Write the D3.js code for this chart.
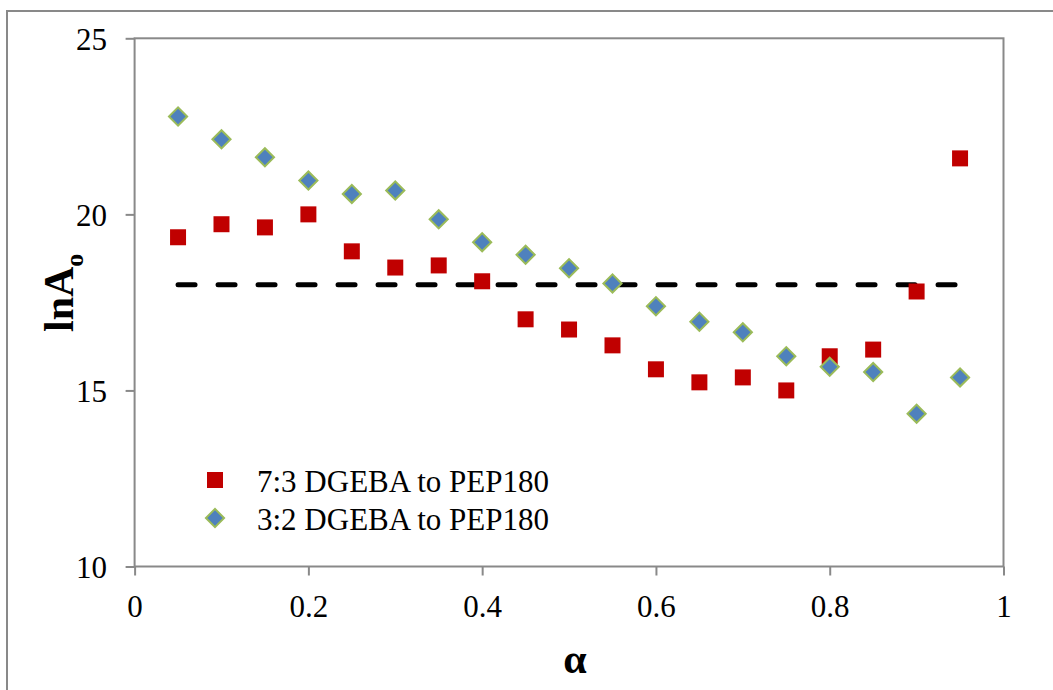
<!DOCTYPE html>
<html>
<head>
<meta charset="utf-8">
<script src="https://cdn.jsdelivr.net/npm/d3@7"></script>
<style>
  html, body { margin: 0; padding: 0; background: #fff; }
  svg { display: block; }
  svg text { font-family: "Liberation Serif", "Times New Roman", Tinos, "DejaVu Serif", "Noto Serif", serif; }
</style>
</head>
<body>
<svg id="chart" width="1053" height="690"></svg>
<script>
// ---- data ----
const alphaValues = [0.05,0.1,0.15,0.2,0.25,0.3,0.35,0.4,0.45,0.5,0.55,0.6,0.65,0.7,0.75,0.8,0.85,0.9,0.95];
const series73 = [19.35,19.72,19.63,20.0,18.95,18.49,18.55,18.10,17.02,16.73,16.28,15.60,15.23,15.37,15.00,15.97,16.16,17.81,21.59];
const series32 = [22.78,22.13,21.62,20.96,20.58,20.68,19.86,19.21,18.85,18.47,18.04,17.39,16.95,16.65,15.97,15.67,15.52,14.34,15.37];
const seriesNames = ["7:3 DGEBA to PEP180", "3:2 DGEBA to PEP180"];
const xTicks = [0, 0.2, 0.4, 0.6, 0.8, 1];
const xTickLabels = ["0", "0.2", "0.4", "0.6", "0.8", "1"];
const yTicks = [10, 15, 20, 25];
const refLevel = 18;
const refRange = [0.05, 0.95];

// ---- setup ----
const svg = d3.select("#chart");
const FONT = '"Liberation Serif", "Times New Roman", Tinos, "DejaVu Serif", serif';
const GREY = "#898989";

const x = d3.scaleLinear().domain([0, 1]).range([134.6, 1003.5]);
const y = d3.scaleLinear().domain([10, 25]).range([566.5, 38.3]);

// outer chart border (extends past the window on right/bottom)
svg.append("rect")
  .attr("x", 7).attr("y", 11)
  .attr("width", 1060).attr("height", 700)
  .attr("fill", "none").attr("stroke", GREY).attr("stroke-width", 2);

// plot area frame
svg.append("rect")
  .attr("x", x(0)).attr("y", y(25))
  .attr("width", x(1) - x(0)).attr("height", y(10) - y(25))
  .attr("fill", "none").attr("stroke", GREY).attr("stroke-width", 2);

// y axis
const yAxis = svg.append("g")
  .attr("transform", `translate(${x(0)},0)`)
  .call(d3.axisLeft(y).tickValues(yTicks).tickSize(9).tickSizeOuter(0).tickPadding(18.5).tickFormat(d3.format("d")));
yAxis.attr("font-family", null);
yAxis.select(".domain").remove();
yAxis.selectAll(".tick line").attr("stroke", GREY).attr("stroke-width", 2);
yAxis.selectAll(".tick text")
  .style("font-family", FONT).style("font-size", "31px").attr("fill", "#000")
  .attr("dy", "0.37em");

// x axis
const xAxis = svg.append("g")
  .attr("transform", `translate(0,${y(10)})`)
  .call(d3.axisBottom(x).tickValues(xTicks).tickSize(9).tickSizeOuter(0)
        .tickFormat((d, i) => xTickLabels[i]));
xAxis.attr("font-family", null);
xAxis.select(".domain").remove();
xAxis.selectAll(".tick line").attr("stroke", GREY).attr("stroke-width", 2);
xAxis.selectAll(".tick text")
  .style("font-family", FONT).style("font-size", "31px").attr("fill", "#000")
  .attr("y", 50.5).attr("dy", 0);

// dashed reference line
svg.append("line")
  .attr("x1", x(refRange[0])).attr("x2", x(refRange[1]))
  .attr("y1", y(refLevel)).attr("y2", y(refLevel))
  .attr("stroke", "#000").attr("stroke-width", 5)
  .attr("stroke-linecap", "round")
  .attr("stroke-dasharray", "17 23");

// markers
const squareSym = d3.symbol().type(d3.symbolSquare).size(256);
const diamondSym = d3.symbol().type(d3.symbolSquare).size(165);

function drawSquare(sel) {
  sel.attr("d", squareSym()).attr("fill", "#C00000");
}
function drawDiamond(sel) {
  sel.attr("d", diamondSym()).attr("fill", "#4F81BD")
     .attr("stroke", "#9BBB59").attr("stroke-width", 2);
}

svg.append("g").selectAll("path")
  .data(alphaValues.map((a, i) => [a, series73[i]]))
  .join("path")
  .attr("transform", d => `translate(${x(d[0])},${y(d[1])})`)
  .call(drawSquare);

svg.append("g").selectAll("path")
  .data(alphaValues.map((a, i) => [a, series32[i]]))
  .join("path")
  .attr("transform", d => `translate(${x(d[0])},${y(d[1])}) rotate(45)`)
  .call(drawDiamond);

// legend
const legend = svg.append("g");
const legendRows = [
  { name: seriesNames[0], draw: drawSquare, rot: 0 },
  { name: seriesNames[1], draw: drawDiamond, rot: 45 }
];
legendRows.forEach((r, i) => {
  const cy = 480 + i * 38;
  legend.append("path")
    .attr("transform", `translate(215,${cy}) rotate(${r.rot})`)
    .call(r.draw);
  legend.append("text")
    .attr("x", 257).attr("y", cy + 12)
    .style("font-family", FONT).style("font-size", "31px").attr("fill", "#000")
    .text(r.name);
});

// y axis title: lnA with subscript o
const yTitle = svg.append("text")
  .attr("transform", "translate(72.7,332) rotate(-90)")
  .style("font-family", FONT).style("font-weight", "bold").style("font-size", "42px")
  .attr("fill", "#000");
yTitle.append("tspan").text("lnA");
yTitle.append("tspan").style("font-size", "26px").attr("dy", 10).text("o");

// x axis title
svg.append("text")
  .attr("x", 575).attr("y", 673)
  .attr("text-anchor", "middle")
  .style("font-family", FONT).style("font-weight", "bold").style("font-size", "42px")
  .attr("fill", "#000")
  .text("α");
</script>
</body>
</html>
